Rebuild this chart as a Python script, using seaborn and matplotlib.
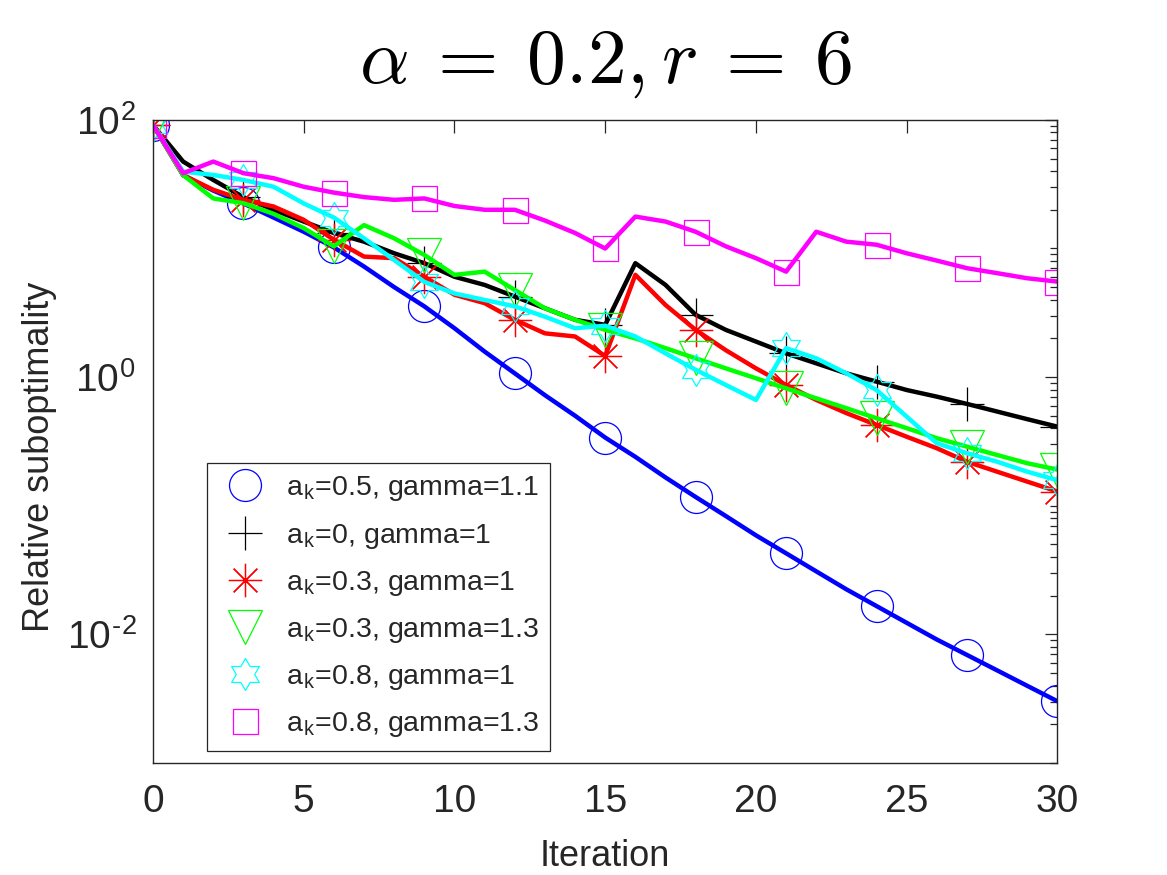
import numpy as np
import pandas as pd
import matplotlib
matplotlib.use("Agg")
import matplotlib.pyplot as plt
import matplotlib.ticker as mticker
from matplotlib.path import Path
import seaborn as sns

# === data (iterations 0..30) ===
iterations = list(range(31))

blue_vals = [91.2, 37.2, 28.2, 22.4, 17.4, 13.5, 10.2, 7.24, 5.01, 3.55, 2.40,
             1.58, 1.07, 0.724, 0.501, 0.339, 0.240, 0.166, 0.117, 0.0832, 0.0589,
             0.0427, 0.0309, 0.0224, 0.0166, 0.0123, 0.00912, 0.00692, 0.00525,
             0.00398, 0.00302]
black_vals = [91.2, 47.4, 34.1, 25.1, 20.0, 16.2, 13.2, 11.3, 9.18, 7.69, 6.03,
              5.21, 4.23, 3.43, 2.79, 2.55, 7.69, 5.21, 3.05, 2.33, 1.89,
              1.53, 1.28, 1.07, 0.923, 0.794, 0.705, 0.619, 0.540, 0.471, 0.412]
red_vals = [91.2, 37.2, 28.6, 23.9, 21.2, 16.7, 11.7, 8.65, 8.41, 6.03, 4.37,
            3.76, 2.79, 2.19, 2.07, 1.46, 6.24, 3.64, 2.33, 1.62, 1.17,
            0.869, 0.665, 0.525, 0.425, 0.344, 0.280, 0.220, 0.184, 0.154, 0.129]
green_vals = [91.2, 37.2, 24.5, 22.5, 18.6, 14.4, 10.4, 15.2, 12.0, 8.91, 6.24,
              6.61, 4.76, 3.43, 2.79, 2.33, 2.00, 1.68, 1.40, 1.17, 0.980,
              0.818, 0.684, 0.573, 0.479, 0.401, 0.335, 0.288, 0.248, 0.214, 0.191]
cyan_vals = [91.2, 39.6, 37.3, 34.1, 30.2, 22.4, 17.4, 12.0, 8.13, 5.50, 4.47,
             3.98, 3.55, 2.95, 2.40, 2.51, 2.07, 1.53, 1.14, 0.869, 0.665,
             1.68, 1.40, 1.07, 0.794, 0.493, 0.306, 0.256, 0.220, 0.184, 0.158]
magenta_vals = [91.2, 38.5, 47.4, 38.5, 35.2, 30.2, 27.2, 25.1, 23.9, 24.5, 21.4,
                20.0, 20.0, 16.5, 13.2, 10.0, 17.7, 16.2, 13.5, 10.4, 8.41,
                6.61, 13.5, 11.3, 10.7, 9.18, 8.05, 7.03, 6.43, 5.87, 5.53]

labels = [
    r"a$_\mathregular{k}$=0.5, gamma=1.1",
    r"a$_\mathregular{k}$=0, gamma=1",
    r"a$_\mathregular{k}$=0.3, gamma=1",
    r"a$_\mathregular{k}$=0.3, gamma=1.3",
    r"a$_\mathregular{k}$=0.8, gamma=1",
    r"a$_\mathregular{k}$=0.8, gamma=1.3",
]
series = [blue_vals, black_vals, red_vals, green_vals, cyan_vals, magenta_vals]
colors = ["#0000ff", "#000000", "#ff0000", "#00ff00", "#00ffff", "#ff00ff"]

ytick_vals = [1e-2, 1e0, 1e2]
ytick_labels = ["10$^{\\mathregular{\u20102}}$", "10$^{\\mathregular{0}}$", "10$^{\\mathregular{2}}$"]

# hexagram (MATLAB 'h') marker
ang = np.deg2rad(90 + 30 * np.arange(12))
rad = np.where(np.arange(12) % 2 == 0, 1.0, 1 / np.sqrt(3))
hex_verts = np.column_stack([rad * np.cos(ang), rad * np.sin(ang)])
hex_verts = np.vstack([hex_verts, hex_verts[:1]])
hexagram = Path(hex_verts, closed=True)

markers = ["o", "+", (8, 2, 0), "v", hexagram, "s"]
msizes = [23, 24, 24, 25, 23, 18]

# === style ===
sns.set_theme(style="white")
plt.rcParams["font.family"] = ["Liberation Sans", "DejaVu Sans"]
plt.rcParams["mathtext.fontset"] = "cm"
plt.rcParams["axes.unicode_minus"] = False

fig = plt.figure(figsize=(11.67, 8.75), dpi=100)
ax = fig.add_axes([0.1311, 0.128, 0.775, 0.735])

for vals, col, mk, ms, lab in zip(series, colors, markers, msizes, labels):
    df = pd.DataFrame({"Iteration": iterations, "value": vals})
    sns.lineplot(data=df, x="Iteration", y="value", color=col, lw=3.2,
                 estimator=None, errorbar=None, ax=ax)
    sub = df.iloc[::3]
    sns.lineplot(data=sub, x="Iteration", y="value", estimator=None, errorbar=None,
                 linestyle="none", marker=mk, markersize=ms, markerfacecolor="none",
                 markeredgecolor=col, markeredgewidth=0.9, color=col, label=lab, ax=ax)

ax.set_yscale("log")
ax.set_xlim(0, 30)
ax.set_ylim(1e-3, 1e2)
ax.set_xticks([0, 5, 10, 15, 20, 25, 30])
ax.yaxis.set_major_locator(mticker.FixedLocator(ytick_vals))
ax.yaxis.set_major_formatter(mticker.FixedFormatter(ytick_labels))
ax.yaxis.set_minor_locator(mticker.LogLocator(base=10, subs=np.arange(1, 10), numticks=20))
ax.yaxis.set_minor_formatter(mticker.NullFormatter())

ax.tick_params(which="both", direction="in", top=True, right=True,
               colors="#262626", labelsize=28, width=0.9)
ax.tick_params(which="major", length=9, pad=12)
ax.tick_params(axis="x", which="major", pad=15)
ax.tick_params(which="minor", length=5)
for sp in ax.spines.values():
    sp.set_color("#262626")
    sp.set_linewidth(1.0)

ax.set_xlabel("Iteration", fontsize=26, color="#262626", labelpad=14)
ax.set_ylabel("Relative suboptimality", fontsize=26, color="#262626")
ax.yaxis.set_label_coords(-0.106, 0.476)
ax.set_title(r"$\alpha \:=\: 0.2, r \:=\: 6$", fontsize=56, pad=27, color="black")

leg = ax.legend(loc="lower left", bbox_to_anchor=(0.06, 0.019), fontsize=20.5,
                frameon=True, fancybox=False, framealpha=1, edgecolor="#262626",
                handlelength=1.85, handletextpad=0.5, labelspacing=0.64,
                borderpad=0.4, borderaxespad=0)
leg.get_frame().set_linewidth(0.9)

fig.savefig("out.png", dpi=100)
